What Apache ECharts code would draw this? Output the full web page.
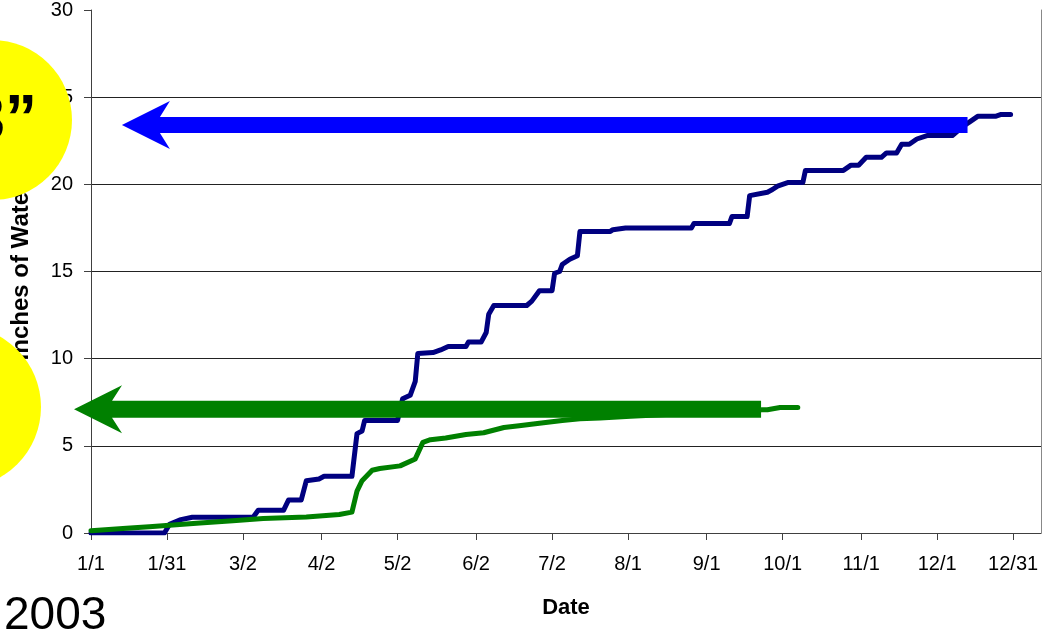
<!DOCTYPE html>
<html>
<head>
<meta charset="utf-8">
<script src="https://cdn.jsdelivr.net/npm/echarts@6/dist/echarts.min.js"></script>
<style>
  html, body { margin: 0; padding: 0; background: #fff; }
  #chart { width: 1045px; height: 637px; }
</style>
</head>
<body>
<div id="chart"></div>
<script>
// Cumulative water totals for 2003, day index 0 = Jan 1
const blueDays = [0, 29, 31, 35, 40, 64, 66, 76, 78, 83, 85, 90, 92, 103, 105, 107, 108, 121, 123, 126, 128, 129,
  135, 138, 141, 148, 149, 154, 156, 157, 159, 172, 174, 177, 182, 183, 185, 186, 189, 192, 193, 205, 206, 211,
  237, 238, 252, 253, 259, 260, 267, 269, 271, 275, 281, 282, 297, 300, 303, 306, 312, 314, 318, 320, 323, 326,
  330, 340, 344, 347, 350, 357, 359, 363];
const blueInches = [0, 0, 0.5, 0.75, 0.9, 0.9, 1.3, 1.3, 1.9, 1.9, 3.0, 3.1, 3.25, 3.25, 5.7, 5.85, 6.45, 6.45, 7.7, 7.9, 8.7, 10.3,
  10.35, 10.5, 10.7, 10.7, 10.95, 10.95, 11.5, 12.55, 13.05, 13.05, 13.3, 13.9, 13.9, 14.9, 15.0, 15.4, 15.7, 15.9, 17.3, 17.3, 17.4, 17.5,
  17.5, 17.75, 17.75, 18.15, 18.15, 19.35, 19.55, 19.7, 19.9, 20.1, 20.1, 20.8, 20.8, 21.1, 21.1, 21.55, 21.55, 21.8, 21.8, 22.3, 22.3, 22.6,
  22.8, 22.8, 23.3, 23.6, 23.9, 23.9, 24.0, 24.0];

const greenDays = [0, 14, 23, 31, 43, 56, 68, 85, 98, 103, 105, 107, 111, 114, 122, 128, 131, 134, 140, 148, 155,
  163, 169, 177, 186, 193, 201, 213, 235, 255, 265, 267, 272, 279];
const greenInches = [0.13, 0.27, 0.36, 0.45, 0.58, 0.7, 0.83, 0.92, 1.06, 1.2, 2.4, 3.0, 3.6, 3.7, 3.85, 4.25, 5.2, 5.35, 5.45, 5.65, 5.75,
  6.05, 6.15, 6.3, 6.45, 6.55, 6.6, 6.7, 6.85, 7.0, 7.07, 7.07, 7.2, 7.2];

// Date axis ticks (day index and label)
const tickDays = [0, 30, 60, 91, 121, 152, 182, 212, 243, 273, 304, 334, 364];
const tickLabels = ['1/1', '1/31', '3/2', '4/2', '5/2', '6/2', '7/2', '8/1', '9/1', '10/1', '11/1', '12/1', '12/31'];

// Annotation arrows: level on the inches scale, tail and tip as day index
const arrowNotes = [
  { level: 23.4, tailDay: 346, tipDay: 12.2, half: 8, color: '#0000FF' },
  { level: 7.1, tailDay: 264.5, tipDay: -6.7, half: 8.5, color: '#008000' }
];

const FONT = "'Liberation Sans', Arial, sans-serif";
const chart = echarts.init(document.getElementById('chart'), null, { renderer: 'canvas' });

const option = {
  animation: false,
  backgroundColor: '#ffffff',
  grid: { left: 91, right: 4, top: 3, bottom: 104, containLabel: false },
  xAxis: {
    type: 'value',
    min: 0,
    max: 375,
    name: 'Date',
    nameLocation: 'middle',
    nameGap: 64,
    nameTextStyle: { fontFamily: FONT, fontSize: 22, fontWeight: 'bold', color: '#000' },
    axisLine: { show: true, lineStyle: { color: '#404040', width: 1 } },
    axisTick: { show: true, length: 7, customValues: tickDays, lineStyle: { color: '#404040' } },
    axisLabel: {
      customValues: tickDays,
      margin: 21,
      fontFamily: FONT, fontSize: 20, color: '#000',
      formatter: function (v) { const i = tickDays.indexOf(v); return i >= 0 ? tickLabels[i] : ''; }
    },
    splitLine: { show: false }
  },
  yAxis: [{
    type: 'value',
    min: 0,
    max: 30,
    interval: 5,
    name: 'Inches of Water',
    nameLocation: 'middle',
    nameRotate: 90,
    nameGap: 58,
    nameTextStyle: { fontFamily: FONT, fontSize: 24, fontWeight: 'bold', color: '#000' },
    axisLine: { show: true, lineStyle: { color: '#404040', width: 1 } },
    axisTick: { show: true, length: 7, lineStyle: { color: '#404040' } },
    axisLabel: { margin: 18, fontFamily: FONT, fontSize: 20, color: '#000' },
    splitLine: { show: true, showMinLine: false, showMaxLine: false, lineStyle: { color: '#222', width: 1 } }
  }, {
    type: 'value',
    position: 'right',
    min: 0,
    max: 30,
    interval: 5,
    axisLine: { show: true, lineStyle: { color: '#888', width: 1 } },
    axisTick: { show: false },
    axisLabel: { show: false },
    splitLine: { show: false }
  }],
  series: [
    {
      type: 'line',
      data: blueDays.map((d, i) => [d, blueInches[i]]),
      showSymbol: false,
      z: 3,
      lineStyle: { color: '#000080', width: 5, join: 'round', cap: 'round' }
    },
    {
      type: 'line',
      data: greenDays.map((d, i) => [d, greenInches[i]]),
      showSymbol: false,
      z: 4,
      lineStyle: { color: '#008000', width: 5, join: 'round', cap: 'round' }
    }
  ]
};
chart.setOption(option);

// Arrows placed through the chart's own scales
const px = (day, val) => chart.convertToPixel({ xAxisIndex: 0, yAxisIndex: 0 }, [day, val]);
const arrows = arrowNotes.map(a => {
  const tip = px(a.tipDay, a.level);
  const tail = px(a.tailDay, a.level);
  const x0 = tip[0], y = tip[1], h = a.half;
  return {
    type: 'polygon',
    z: 50,
    shape: { points: [[x0, y], [x0 + 48, y - 24], [x0 + 38, y - h], [tail[0], y - h], [tail[0], y + h], [x0 + 38, y + h], [x0 + 48, y + 24]] },
    style: { fill: a.color }
  };
});

chart.setOption({
  graphic: [
    ...arrows,
    { type: 'circle', z: 60, shape: { cx: -8, cy: 120, r: 80 }, style: { fill: '#FFFF00' } },
    { type: 'circle', z: 60, shape: { cx: -40, cy: 407, r: 81 }, style: { fill: '#FFFF00' } },
    { type: 'text', z: 61, style: { text: '23\u201D', x: 37, y: 122, align: 'right', verticalAlign: 'middle',
      font: "bold 64px 'Liberation Sans', Arial, sans-serif", fill: '#000' } },
    { type: 'text', z: 61, style: { text: '2003', x: 4, y: 616, align: 'left', verticalAlign: 'middle',
      font: "46px 'Liberation Sans', Arial, sans-serif", fill: '#000' } }
  ]
});
</script>
</body>
</html>
